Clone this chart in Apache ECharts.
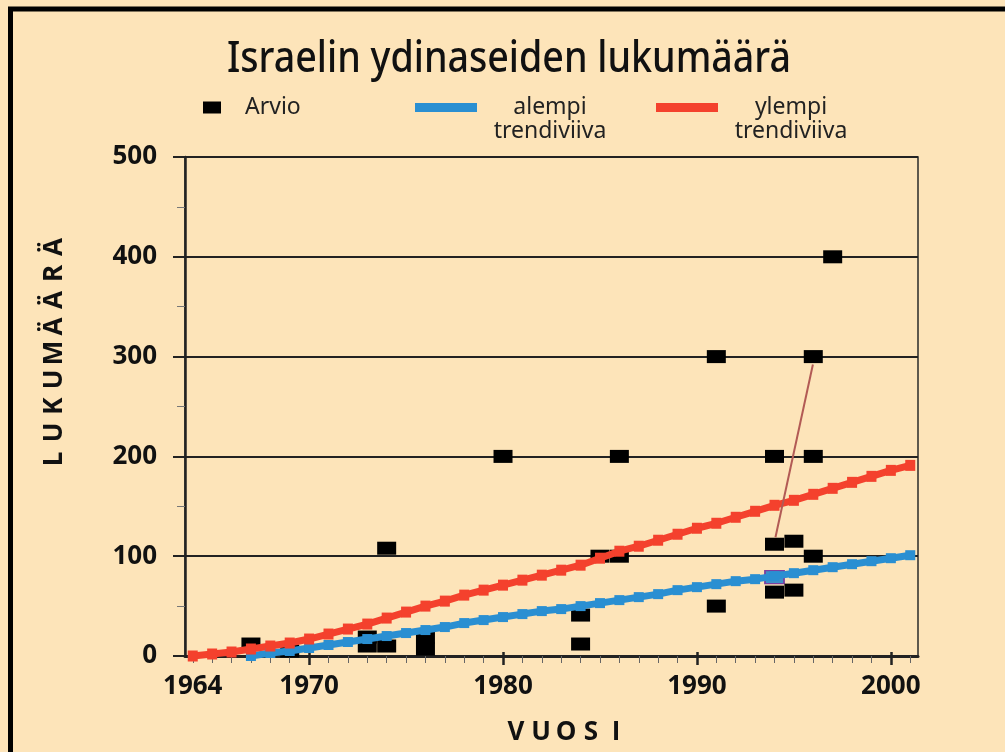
<!DOCTYPE html>
<html><head><meta charset="utf-8">
<script src="https://cdn.jsdelivr.net/npm/echarts@6/dist/echarts.min.js"></script>
<style>html,body{margin:0;padding:0;background:#fde4b9;} #c{width:1005px;height:752px;}</style>
</head><body><div id="c"></div>
<script>
// ---- data ----
const estimateYears  = [1967, 1969, 1973, 1973, 1974, 1974, 1976, 1976, 1980, 1984, 1984, 1985, 1986, 1986, 1991, 1991, 1994, 1994, 1994, 1994, 1995, 1995, 1996, 1996, 1996, 1997];
const estimateValues = [12,   5,    19,   10,   10,   108,  19,   7,    200,  41,   12,   100,  100,  200,  300,  50,   200,  112,  79,   64,   115,  66,   300,  200,  100,  400];
const highlightIndex = 18;

const upperYears = [1964,1965,1966,1967,1968,1969,1970,1971,1972,1973,1974,1975,1976,1977,1978,1979,1980,1981,1982,1983,1984,1985,1986,1987,1988,1989,1990,1991,1992,1993,1994,1995,1996,1997,1998,1999,2000,2001];
const upperTrend = [0,2,4,7,10,13,17,22,27,32,38,44,50,55,61,66,71,76,81,86,91,98,105,110,116,122,128,133,139,145,151,156,162,168,174,180,186,191];

const lowerYears = [1967,1968,1969,1970,1971,1972,1973,1974,1975,1976,1977,1978,1979,1980,1981,1982,1983,1984,1985,1986,1987,1988,1989,1990,1991,1992,1993,1994,1995,1996,1997,1998,1999,2000,2001];
const lowerTrend = [0,3,5,8,11,14,17,20,23,26,29,33,36,39,42,45,47,50,53,56,59,62,66,69,72,75,77,80,83,86,89,92,95,98,101];

const connectorYears  = [1995.98, 1994.05];
const connectorValues = [292, 119];

const xLabelYears = [1964, 1970, 1980, 1990, 2000];
const xMajorTickYears = [1970, 1980, 1990, 2000];
const xMinorTickYears = [];
for (let y = 1964; y <= 2001; y++) xMinorTickYears.push(y);

const titleText = 'Israelin ydinaseiden lukumäärä';
const seriesNames = ['Arvio', 'alempi trendiviiva', 'ylempi trendiviiva'];
const xName = 'VUOSI';
const yName = 'LUKUMÄÄRÄ';

// ---- build ----
const RED = '#f4412d', BLUE = '#2a8fd2', INK = '#111';
const FONT = '"Open Sans", "Noto Sans", sans-serif';
const COND = '"Noto Sans", sans-serif';

const scatterData = estimateYears.map((y, i) => {
  const d = { value: [y, estimateValues[i]] };
  if (i === highlightIndex) d.itemStyle = { color: '#3f8fc6', borderColor: '#7b3fa0', borderWidth: 1.5 };
  return d;
});

function spaced(str) {
  return Array.from(str).map(ch => '{l|' + ch + '}').join('');
}

const legendRich = { a: { width: 124, align: 'center', fontFamily: COND, fontSize: 23, lineHeight: 24, color: '#222' } };

const chart = echarts.init(document.getElementById('c'), null, { renderer: 'canvas' });
chart.setOption({
  backgroundColor: '#fde4b9',
  animation: false,
  grid: { left: 185, top: 157, width: 733, height: 499, show: true, borderColor: '#2a2a2a', borderWidth: 1.5, backgroundColor: 'transparent' },
  legend: [
    { data: [seriesNames[0]], left: 203, top: 96, padding: 0, icon: 'rect', itemWidth: 18, itemHeight: 12,
      textStyle: { fontFamily: COND, fontSize: 23, color: '#222', padding: [0, 0, 0, 19] } },
    { data: [seriesNames[1]], left: 415, top: 96, padding: 0, icon: 'rect', itemWidth: 62, itemHeight: 9,
      formatter: () => '{a|alempi}\n{a|trendiviiva}',
      textStyle: { padding: [24, 0, 0, 6], rich: legendRich } },
    { data: [seriesNames[2]], left: 656, top: 96, padding: 0, icon: 'rect', itemWidth: 62, itemHeight: 9,
      formatter: () => '{a|ylempi}\n{a|trendiviiva}',
      textStyle: { padding: [24, 0, 0, 6], rich: legendRich } }
  ],
  xAxis: [
    { type: 'value', position: 'bottom', min: 1963.6, max: 2001.4, minInterval: 1, maxInterval: 1,
      axisLine: { show: true, lineStyle: { color: '#222', width: 3 } },
      axisTick: { show: true, customValues: xMinorTickYears, length: 7, lineStyle: { color: '#666', width: 1 } },
      axisLabel: { show: true, customValues: xLabelYears, margin: 18, fontFamily: FONT, fontWeight: 'bold', fontSize: 26, color: INK,
        formatter: v => (xLabelYears.indexOf(Math.round(v)) >= 0 && Math.abs(v - Math.round(v)) < 1e-6) ? String(Math.round(v)) : '' },
      splitLine: { show: false } },
    { type: 'value', position: 'top', offset: -495, min: 1963.6, max: 2001.4, minInterval: 10, maxInterval: 10,
      axisLine: { show: false },
      axisTick: { show: true, inside: true, customValues: xMajorTickYears, length: 13, lineStyle: { color: '#222', width: 2.5 } },
      axisLabel: { show: false }, splitLine: { show: false } }
  ],
  yAxis: {
    type: 'value', min: 0, max: 500, interval: 100,
    axisLine: { show: true, lineStyle: { color: '#222', width: 2.5 } },
    axisTick: { show: true, length: 12, lineStyle: { color: '#222', width: 2 } },
    minorTick: { show: true, splitNumber: 2, length: 8, lineStyle: { color: '#777', width: 1 } },
    axisLabel: { margin: 28, fontFamily: FONT, fontWeight: 'bold', fontSize: 26, color: INK },
    splitLine: { show: true, lineStyle: { color: '#222', width: 1.8 } }
  },
  graphic: [
    { type: 'rect', silent: true, shape: { x: 10.5, y: 9, width: 1020, height: 780 }, style: { fill: 'none', stroke: '#000', lineWidth: 5 } },
    { type: 'text', x: 509, y: 59, scaleX: 0.855, style: { text: titleText, fontFamily: '"Noto Sans", sans-serif', fontWeight: 500, fontSize: 44, fill: '#111', align: 'center', verticalAlign: 'middle' } },
    { type: 'text', x: 566, y: 733, style: { text: spaced(xName), align: 'center', verticalAlign: 'middle',
        rich: { l: { width: 25, align: 'center', fontFamily: FONT, fontWeight: 'bold', fontSize: 26, fill: INK } } } },
    { type: 'text', x: 55, y: 353, rotation: Math.PI / 2, style: { text: spaced(yName), align: 'center', verticalAlign: 'middle',
        rich: { l: { width: 26.5, align: 'center', fontFamily: FONT, fontWeight: 'bold', fontSize: 26, fill: INK } } } }
  ],
  series: [
    { name: seriesNames[0], type: 'scatter', xAxisIndex: 0, symbol: 'rect', symbolSize: [19, 13], z: 2,
      itemStyle: { color: '#000', opacity: 1 }, data: scatterData },
    { name: seriesNames[1], type: 'line', xAxisIndex: 0, z: 3, symbol: 'rect', symbolSize: [10, 10], showSymbol: true,
      itemStyle: { color: BLUE }, lineStyle: { color: BLUE, width: 7 },
      data: lowerYears.map((y, i) => [y, lowerTrend[i]]) },
    { name: seriesNames[2], type: 'line', xAxisIndex: 0, z: 3, symbol: 'rect', symbolSize: [10, 11], showSymbol: true,
      itemStyle: { color: RED }, lineStyle: { color: RED, width: 7 },
      data: upperYears.map((y, i) => [y, upperTrend[i]]) },
    { name: 'yhdysviiva', type: 'line', xAxisIndex: 0, z: 4, symbol: 'none', silent: true,
      lineStyle: { color: '#b25a55', width: 2 },
      data: connectorYears.map((y, i) => [y, connectorValues[i]]) }
  ]
});
</script></body></html>
